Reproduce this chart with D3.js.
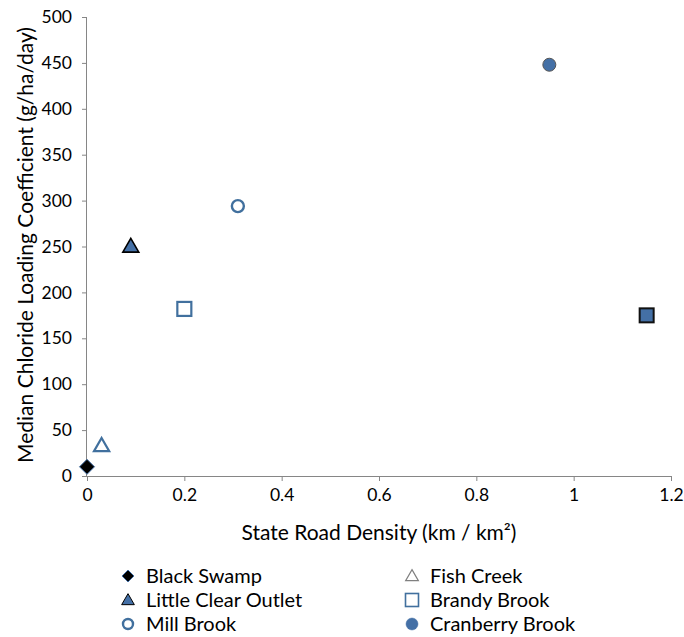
<!DOCTYPE html>
<html><head><meta charset="utf-8">
<script src="https://cdn.jsdelivr.net/npm/d3@7"></script>
<style>body{margin:0;background:#fff}svg{display:block}text{font-family:Lato,"Open Sans",sans-serif;fill:#000}</style>
</head><body><svg id="c" width="684" height="637"></svg>
<script>
const names = ["Black Swamp","Fish Creek","Little Clear Outlet","Brandy Brook","Mill Brook","Cranberry Brook","Unlabeled"];
const density = [0, 0.03, 0.09, 0.2, 0.31, 0.95, 1.15];
const chloride = [10, 33, 250, 182, 294, 448, 175];
const shapes = ["diamond","triangleOpen","triangleFilled","squareOpen","circleOpen","circleFilled","squareFilled"];
const inLegend = [true,true,true,true,true,true,false];
const xTicks = [0,0.2,0.4,0.6,0.8,1,1.2];
const yTicks = [0,50,100,150,200,250,300,350,400,450,500];

const svg = d3.select("#c");
const x = d3.scaleLinear().domain([0,1.2]).range([87,671]);
const y = d3.scaleLinear().domain([0,500]).range([476,17]);
const axisCol = "#868686", blue = "#4470a6", blueLine = "#41709e";
const FS = 17.5;

const xa = svg.append("g").attr("transform","translate(0,476)")
  .call(d3.axisBottom(x).tickValues(xTicks).tickSize(5).tickPadding(8).tickFormat(d=>String(d)));
const ya = svg.append("g").attr("transform","translate(87,0)")
  .call(d3.axisLeft(y).tickValues(yTicks).tickSize(5).tickPadding(10).tickFormat(d=>String(d)));
[xa,ya].forEach(a=>{
  a.selectAll("path,line").attr("stroke",axisCol);
  a.select(".domain").attr("d", a===xa ? `M${x(0)},0.5H${x(1.2)}` : `M-0.5,${y(0)}V${y(500)}`);
  a.selectAll("text").attr("font-size",FS).attr("font-family","Lato,'Open Sans',sans-serif").attr("fill","#000");
});

function drawMarker(g, shape, legend){
  if(shape==="diamond"){
    const r = legend?6:7.5;
    g.append("path").attr("d",`M0,${-r}L${r},0L0,${r}L${-r},0Z`).attr("fill","#000").attr("stroke",blue).attr("stroke-width",1);
  } else if(shape==="triangleOpen"){
    g.append("path").attr("d",d3.symbol(d3.symbolTriangle, legend?70:100)()).attr("transform","translate(0,1)")
      .attr("fill","#fff").attr("stroke",legend?"#808080":blueLine).attr("stroke-width",legend?1.2:2.2);
  } else if(shape==="triangleFilled"){
    g.append("path").attr("d",d3.symbol(d3.symbolTriangle, legend?70:110)()).attr("transform","translate(0,1)")
      .attr("fill",blue).attr("stroke","#000").attr("stroke-width",legend?1:1.6);
  } else if(shape==="squareOpen"){
    const s = legend?13:14;
    g.append("rect").attr("x",-s/2).attr("y",-s/2).attr("width",s).attr("height",s)
      .attr("fill","#fff").attr("stroke",blueLine).attr("stroke-width",legend?1.6:2.2);
  } else if(shape==="squareFilled"){
    const s = 14;
    g.append("rect").attr("x",-s/2).attr("y",-s/2).attr("width",s).attr("height",s)
      .attr("fill",blue).attr("stroke","#111").attr("stroke-width",2);
  } else if(shape==="circleOpen"){
    g.append("circle").attr("r",legend?5:6).attr("fill","#fff").attr("stroke",blueLine).attr("stroke-width",2.4);
  } else if(shape==="circleFilled"){
    g.append("circle").attr("r",legend?6:6.5).attr("fill",blue).attr("stroke",legend?blue:"#555").attr("stroke-width",legend?0.5:1);
  }
}

density.forEach((d,i)=>{
  const g = svg.append("g").attr("transform",`translate(${x(d)},${y(chloride[i])})`);
  drawMarker(g, shapes[i], false);
});

svg.append("text").attr("x",379).attr("y",540).attr("text-anchor","middle").attr("font-size",21)
  .text("State Road Density (km / km²)");
svg.append("text").attr("transform","translate(33,245) rotate(-90)").attr("text-anchor","middle").attr("font-size",21)
  .text("Median Chloride Loading Coefficient  (g/ha/day)");

const legIdx = names.map((n,i)=>i).filter(i=>inLegend[i]);
legIdx.forEach((i,k)=>{
  const col = k%2, row = Math.floor(k/2);
  const lx = col===0?128:412, ly = 576+row*24;
  const g = svg.append("g").attr("transform",`translate(${lx},${ly})`);
  drawMarker(g, shapes[i], true);
  svg.append("text").attr("x",lx+18).attr("y",ly+7).attr("font-size",20).text(names[i]);
});
</script></body></html>
